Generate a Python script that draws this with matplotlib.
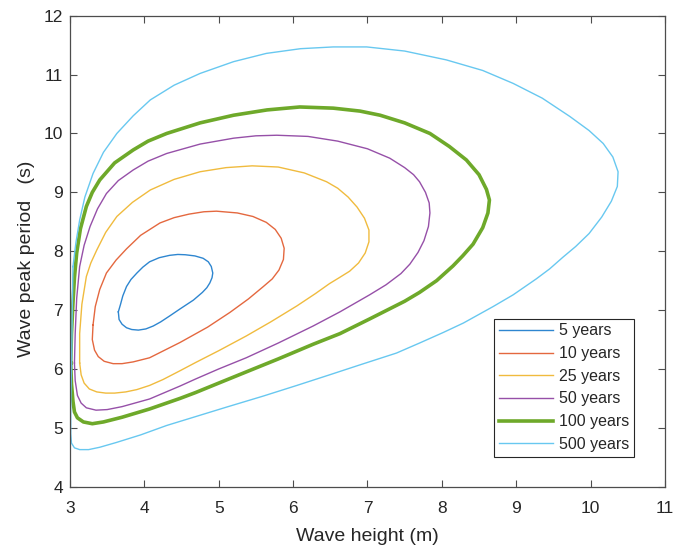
import matplotlib
matplotlib.use("Agg")
import matplotlib.pyplot as plt

plt.rcParams['font.family'] = ['Liberation Sans', 'DejaVu Sans']

# Environmental contours: significant wave height Hs (m) vs peak period Tp (s)
labels = ['5 years', '10 years', '25 years', '50 years', '100 years', '500 years']
colors = ['#2E86D0', '#E4683F', '#F0BB3E', '#9650A8', '#6EA92A', '#68C8F0']
widths = [1.0, 1.0, 1.0, 1.0, 2.6, 1.0]

hs_5 = [3.65, 3.68, 3.71, 3.76, 3.82, 3.90, 3.98, 4.07, 4.20, 4.34, 4.45, 4.55,
        4.68, 4.79, 4.86, 4.90, 4.92, 4.91, 4.88, 4.84, 4.78, 4.66, 4.48, 4.34,
        4.22, 4.12, 4.02, 3.92, 3.83, 3.76, 3.70, 3.66, 3.65]
tp_5 = [6.97, 7.10, 7.24, 7.40, 7.52, 7.63, 7.73, 7.82, 7.89, 7.93, 7.945, 7.94,
        7.92, 7.88, 7.82, 7.74, 7.63, 7.55, 7.46, 7.38, 7.30, 7.17, 7.02, 6.90,
        6.80, 6.73, 6.68, 6.66, 6.67, 6.70, 6.76, 6.84, 6.97]

hs_10 = [3.31, 3.34, 3.40, 3.49, 3.62, 3.76, 3.95, 4.21, 4.40, 4.60, 4.80, 4.97,
         5.25, 5.46, 5.64, 5.76, 5.84, 5.88, 5.87, 5.81, 5.72, 5.60, 5.40, 5.15,
         4.85, 4.48, 4.07, 3.85, 3.70, 3.58, 3.46, 3.38, 3.33, 3.30, 3.31]
tp_10 = [6.75, 7.06, 7.35, 7.63, 7.85, 8.04, 8.27, 8.48, 8.57, 8.63, 8.67, 8.68,
         8.65, 8.59, 8.49, 8.37, 8.22, 8.05, 7.86, 7.68, 7.53, 7.40, 7.19, 6.96,
         6.71, 6.45, 6.19, 6.12, 6.09, 6.09, 6.13, 6.21, 6.32, 6.50, 6.75]

hs_25 = [3.13, 3.13, 3.16, 3.22, 3.28, 3.36, 3.48, 3.63, 3.84, 4.08, 4.40, 4.75,
         5.10, 5.45, 5.80, 6.15, 6.45, 6.60, 6.74, 6.86, 6.96, 7.02, 7.02, 6.97,
         6.88, 6.76, 6.62, 6.49, 6.30, 6.05, 5.70, 5.37, 5.00, 4.69, 4.48, 4.25,
         4.07, 3.90, 3.75, 3.60, 3.48, 3.36, 3.26, 3.19, 3.15, 3.13]
tp_25 = [6.10, 6.60, 7.10, 7.57, 7.80, 8.02, 8.32, 8.59, 8.83, 9.04, 9.22, 9.35,
         9.42, 9.45, 9.43, 9.33, 9.18, 9.07, 8.92, 8.75, 8.56, 8.36, 8.16, 7.97,
         7.80, 7.66, 7.55, 7.45, 7.28, 7.07, 6.80, 6.56, 6.31, 6.11, 5.97, 5.82,
         5.72, 5.65, 5.61, 5.59, 5.59, 5.61, 5.66, 5.76, 5.90, 6.10]

hs_50 = [3.06, 3.07, 3.09, 3.13, 3.19, 3.27, 3.37, 3.49, 3.65, 3.85, 4.05, 4.30,
         4.75, 5.20, 5.50, 5.78, 6.20, 6.60, 7.00, 7.30, 7.50, 7.62, 7.70, 7.78,
         7.83, 7.84, 7.82, 7.76, 7.68, 7.57, 7.45, 7.25, 7.03, 6.63, 6.27, 5.80,
         5.37, 5.00, 4.69, 4.48, 4.07, 3.70, 3.50, 3.35, 3.22, 3.15, 3.10, 3.07,
         3.06]
tp_50 = [6.10, 6.60, 7.20, 7.74, 8.10, 8.42, 8.72, 8.98, 9.20, 9.38, 9.53, 9.66,
         9.82, 9.92, 9.96, 9.97, 9.95, 9.87, 9.74, 9.58, 9.42, 9.30, 9.18, 9.00,
         8.82, 8.65, 8.42, 8.18, 7.98, 7.78, 7.62, 7.43, 7.26, 6.97, 6.73, 6.44,
         6.19, 6.00, 5.83, 5.71, 5.49, 5.36, 5.31, 5.30, 5.34, 5.42, 5.55, 5.80,
         6.10]

hs_100 = [3.01, 3.02, 3.04, 3.06, 3.09, 3.14, 3.22, 3.30, 3.40, 3.60, 3.85, 4.05,
          4.30, 4.75, 5.20, 5.65, 6.09, 6.54, 6.90, 7.17, 7.50, 7.84, 8.10, 8.33,
          8.50, 8.60, 8.64, 8.62, 8.55, 8.42, 8.28, 8.15, 7.93, 7.70, 7.50, 7.03,
          6.63, 6.27, 5.80, 5.37, 5.00, 4.69, 4.48, 4.07, 3.70, 3.45, 3.30, 3.18,
          3.10, 3.06, 3.04, 3.02, 3.01]
tp_100 = [6.10, 6.60, 7.12, 7.55, 7.97, 8.38, 8.76, 9.00, 9.21, 9.50, 9.72, 9.87,
          10.00, 10.18, 10.31, 10.40, 10.45, 10.43, 10.38, 10.31, 10.18, 10.00, 9.78, 9.55,
          9.30, 9.05, 8.87, 8.65, 8.40, 8.12, 7.92, 7.75, 7.50, 7.30, 7.15, 6.85,
          6.60, 6.42, 6.17, 5.95, 5.76, 5.60, 5.50, 5.32, 5.18, 5.10, 5.07, 5.10,
          5.17, 5.27, 5.45, 5.75, 6.10]

hs_500 = [3.04, 3.08, 3.13, 3.20, 3.31, 3.45, 3.63, 3.85, 4.08, 4.40, 4.75, 5.20,
          5.64, 6.10, 6.54, 6.99, 7.50, 8.06, 8.55, 8.96, 9.35, 9.72, 9.98, 10.17,
          10.30, 10.37, 10.36, 10.28, 10.15, 9.98, 9.80, 9.63, 9.45, 9.27, 8.96, 8.69,
          8.29, 8.02, 7.70, 7.39, 6.90, 6.49, 6.05, 5.60, 5.10, 4.61, 4.30, 3.95,
          3.62, 3.40, 3.25, 3.13, 3.06, 3.02, 3.01, 3.01, 3.02, 3.03, 3.04]
tp_500 = [7.74, 8.15, 8.53, 8.92, 9.32, 9.68, 10.00, 10.30, 10.57, 10.82, 11.02, 11.22,
          11.36, 11.44, 11.47, 11.47, 11.40, 11.25, 11.07, 10.85, 10.60, 10.29, 10.05, 9.83,
          9.60, 9.35, 9.10, 8.85, 8.58, 8.30, 8.08, 7.90, 7.70, 7.53, 7.26, 7.06,
          6.78, 6.62, 6.44, 6.27, 6.07, 5.90, 5.72, 5.54, 5.35, 5.16, 5.04, 4.88,
          4.75, 4.67, 4.63, 4.63, 4.66, 4.74, 4.90, 5.30, 6.00, 7.00, 7.74]

hs_all = [hs_5, hs_10, hs_25, hs_50, hs_100, hs_500]
tp_all = [tp_5, tp_10, tp_25, tp_50, tp_100, tp_500]

fig = plt.figure(figsize=(6.73, 5.46), dpi=100)
ax = fig.add_axes([0.104, 0.1086, 0.884, 0.8626])

for hs, tp, lab, c, lw in zip(hs_all, tp_all, labels, colors, widths):
    ax.plot(hs, tp, color=c, lw=lw, label=lab, solid_joinstyle='round')

ax.set_xlim(3, 11)
ax.set_ylim(4, 12)
ax.set_xticks(range(3, 12))
ax.set_yticks(range(4, 13))

axis_color = '#262626'
for sp in ax.spines.values():
    sp.set_color('#4d4d4d')
    sp.set_linewidth(0.9)
ax.tick_params(direction='in', length=5, width=0.8, colors='#4d4d4d',
               labelcolor=axis_color, labelsize=12.5, top=True, right=True)
ax.tick_params(axis='x', pad=10)
ax.tick_params(axis='y', pad=5)

ax.set_xlabel('Wave height (m)', fontsize=14, color=axis_color, labelpad=9)
ax.set_ylabel('Wave peak period   (s)', fontsize=14, color=axis_color)
ax.yaxis.set_label_coords(-0.058, 0.483)

leg = ax.legend(loc='lower right', bbox_to_anchor=(0.948, 0.064), fontsize=11.5,
                fancybox=False, framealpha=1, edgecolor='#262626',
                handlelength=3.4, handletextpad=0.35, labelspacing=0.48,
                borderpad=0.3, borderaxespad=0)
leg.get_frame().set_linewidth(0.8)
for t in leg.get_texts():
    t.set_color(axis_color)

fig.savefig('out.png', dpi=100)
plt.close(fig)
